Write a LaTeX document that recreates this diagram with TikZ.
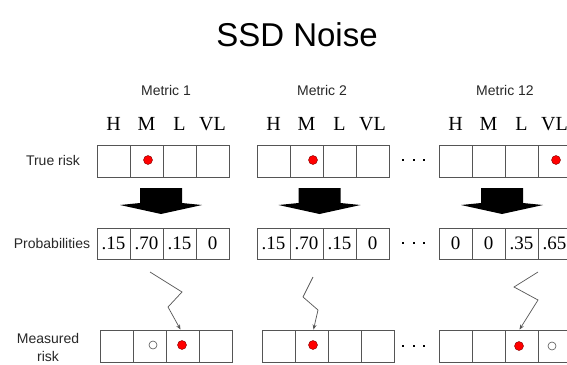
\documentclass[tikz,border=0pt]{standalone}
\usepackage{fontspec}
\setmainfont{Liberation Serif}
\newfontfamily\arial{Liberation Sans}
\usetikzlibrary{arrows.meta}
\definecolor{boxgray}{RGB}{85,85,85}
\definecolor{txtgray}{RGB}{40,40,40}
\tikzset{
 cell/.style={draw=boxgray, line width=0.9pt, minimum width=33pt, minimum height=32pt, inner sep=0pt, font=\fontsize{19}{19}\selectfont},
 pcell/.style={cell, minimum height=31pt},
 lab/.style={font=\arial\fontsize{14}{16}\selectfont, text=txtgray, inner sep=0pt, align=center},
 hdr/.style={font=\fontsize{20}{20}\selectfont, inner sep=0pt},
 reddot/.style={circle, fill=red, draw=red!50!black, line width=0.4pt, minimum size=9pt, inner sep=0pt},
 opendot/.style={circle, draw=boxgray, line width=0.6pt, minimum size=8pt, inner sep=0pt},
 blockarrow/.style={fill=black},
 zig/.style={draw=boxgray, line width=0.7pt, -{Stealth[length=5pt,width=4pt]}},
 ell/.style={fill=black, minimum size=2.6pt, inner sep=0pt, rectangle}
}
\begin{document}
\begin{tikzpicture}[x=1pt,y=-1pt]
\useasboundingbox (0,0) rectangle (567,364);
\clip (0,0) rectangle (567,364);
\fill[white] (0,0) rectangle (567,364);

% title
\node[font=\arial\fontsize{33}{33}\selectfont, inner sep=0pt] (title) at (297,35) {SSD Noise};

% metric labels
\node[lab] (met1) at (166,90) {Metric 1};
\node[lab] (met2) at (322,90) {Metric 2};
\node[lab] (met3) at (505,90) {Metric 12};

% row labels
\node[lab] (lt) at (53,160) {True risk};
\node[lab] (lp) at (52,243) {Probabilities};
\node[lab, font=\arial\fontsize{14}{18}\selectfont] (lm) at (48,347) {Measured\\risk};

% true risk cells and headers
\foreach \b/\x in {1/97,2/257,3/439} {
  \foreach \h [count=\i] in {H,M,L,VL} {
    \node[cell] (t\b-\i) at ({\x+16.5+33*(\i-1)},161) {};
    \node[hdr] (h\b-\i) at ({\x+16.5+33*(\i-1)},124) {\h};
  }
}

% probability cells
\foreach \b/\x/\vals in {1/97/{.15,.70,.15,0},2/257/{.15,.70,.15,0},3/439/{0,0,.35,.65}} {
  \foreach \v [count=\i] in \vals {
    \node[pcell] (p\b-\i) at ({\x+16.5+33*(\i-1)},243.5) {\v};
  }
}

% measured cells
\foreach \b/\x in {1/100,2/262,3/439} {
  \foreach \i in {1,...,4} {
    \node[cell] (m\b-\i) at ({\x+16.5+33*(\i-1)},346) {};
  }
}

% ellipses
\foreach \r/\y in {a/160,b/243,c/346} {
  \foreach \k/\xx in {1/403,2/414,3/424} {
    \node[ell] (d\r\k) at (\xx,\y) {};
  }
}

% dots in true risk
\node[reddot] (rt1) at (148,160) {};
\node[reddot] (rt2) at (313,160) {};
\node[reddot] (rt3) at (556,160) {};

% dots in measured risk
\node[opendot] (om1) at (153,345) {};
\node[reddot] (rm1) at (182,345) {};
\node[reddot] (rm2) at (313,345) {};
\node[reddot] (rm3) at (519,346) {};
\node[opendot] (om3) at (552,346) {};

% block arrows
\foreach \cx in {161,319.5,502} {
  \fill[blockarrow] (\cx-21,188) -- (\cx+21,188) -- (\cx+21,203) -- (\cx+41,205)
    -- (\cx,214) -- (\cx-41,205) -- (\cx-21,203) -- cycle;
}

% zigzag arrows
\coordinate (z1a) at (150,272);
\coordinate (z1b) at (182,292);
\coordinate (z1c) at (168,307);
\draw[zig] (z1a) -- (z1b) -- (z1c) -- ([xshift=-2pt]m1-3.north);

\coordinate (z2a) at (313,277);
\coordinate (z2b) at (303,297);
\coordinate (z2c) at (318,310);
\draw[zig] (z2a) -- (z2b) -- (z2c) -- ([xshift=2pt]m2-2.north);

\coordinate (z3a) at (538,272);
\coordinate (z3b) at (514,287);
\coordinate (z3c) at (538,300);
\draw[zig] (z3a) -- (z3b) -- (z3c) -- ([xshift=-2pt]m3-3.north);
\end{tikzpicture}
\end{document}
